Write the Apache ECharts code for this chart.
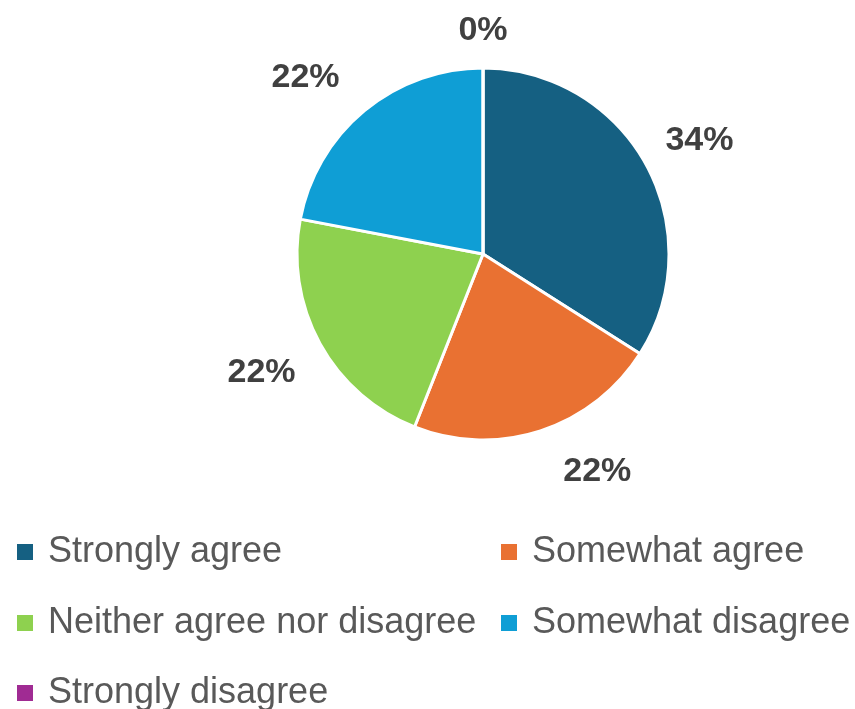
<!DOCTYPE html>
<html lang="en">
<head>
    <meta charset="UTF-8">
    <title>Pie</title>
    <script src="https://cdn.jsdelivr.net/npm/echarts@6/dist/echarts.min.js"></script>
    <style>
        html, body { margin: 0; padding: 0; background: #fff; }
        #main { width: 855px; height: 709px; }
    </style>
</head>
<body>
<div id="main"></div>
<script>
    var categories = ['Strongly agree', 'Somewhat agree', 'Neither agree nor disagree', 'Somewhat disagree', 'Strongly disagree'];
    var values = [34, 22, 22, 22, 0];
    var colors = ['#156082', '#E97132', '#8ED14F', '#0F9ED5', '#A02B93'];

    // small nudges so the labels sit where Excel put them
    var labelOffsets = [[0, 6], [38, -17], [-5, 0], [-20, 14], [0, 24]];
    // legend slots: [left, top] per category
    var legendSlots = [[10, 527], [494, 527], [10, 598], [494, 598], [10, 668]];

    var pieData = [];
    for (var i = 0; i < categories.length; i++) {
        pieData.push({value: values[i], name: categories[i], itemStyle: {color: colors[i]}});
    }
    // same slices, transparent, only to put labels on a larger ring
    var labelData = [];
    for (var j = 0; j < categories.length; j++) {
        labelData.push({value: values[j], name: categories[j], label: {offset: labelOffsets[j]}});
    }

    var legends = [];
    for (var k = 0; k < categories.length; k++) {
        legends.push({
            left: legendSlots[k][0], top: legendSlots[k][1],
            itemWidth: 18, itemHeight: 18, icon: 'rect',
            data: [categories[k]],
            textStyle: {
                fontFamily: 'Liberation Sans',
                fontSize: 36,
                color: '#595959',
                lineHeight: 40,
                padding: [0, 0, 0, 9]
            }
        });
    }

    var option = {
        animation: false,
        color: colors,
        legend: legends,
        series: [
            {
                name: 'main',
                type: 'pie',
                center: [483, 254],
                radius: [0, 186],
                startAngle: 90,
                avoidLabelOverlap: false,
                itemStyle: {borderColor: '#fff', borderWidth: 3},
                label: {show: false},
                labelLine: {show: false},
                data: pieData
            },
            {
                name: 'labels',
                type: 'pie',
                silent: true,
                center: [483, 254],
                radius: [0, 488],
                startAngle: 90,
                avoidLabelOverlap: false,
                itemStyle: {color: 'rgba(0,0,0,0)'},
                label: {
                    show: true,
                    position: 'inside',
                    formatter: function (p) { return p.value + '%'; },
                    fontFamily: 'Liberation Sans',
                    fontWeight: 'bold',
                    fontSize: 34,
                    color: '#404040'
                },
                labelLine: {show: false},
                data: labelData,
                z: 1
            }
        ]
    };

    var myChart = echarts.init(document.getElementById('main'));
    myChart.setOption(option);
    window.onresize = function () {
        myChart.resize();
    };
</script>
</body>
</html>
